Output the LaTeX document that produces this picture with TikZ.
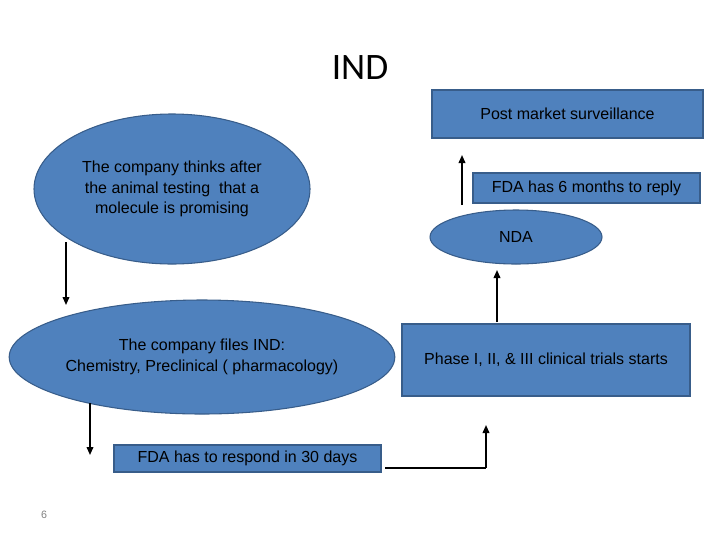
\documentclass[tikz,border=0pt]{standalone}
\usepackage{fontspec}
\setmainfont{Liberation Sans}
\newfontfamily\titlefont{Carlito}
\usetikzlibrary{shapes.geometric,arrows.meta}
\definecolor{bfill}{HTML}{4F81BD}
\definecolor{bdraw}{HTML}{385D8A}
\begin{document}
\begin{tikzpicture}[x=0.75pt,y=-0.75pt,
  boxn/.style={draw=bdraw,fill=bfill,line width=0.8pt,inner sep=0pt,font=\fontsize{12}{14.4}\selectfont},
  elln/.style={ellipse,draw=bdraw,fill=bfill,line width=0.8pt,inner sep=0pt,align=center,font=\fontsize{12}{15.5}\selectfont},
  arr/.style={-{Triangle[length=6pt,width=5pt]},line width=1.2pt}]
\useasboundingbox (0,0) rectangle (720,540);
\node (title) at (360,68) {\titlefont\fontsize{28}{32}\selectfont IND};
\node[boxn,minimum width=271pt*0.75,minimum height=48pt*0.75] (pms) at (567.5,114) {Post market surveillance};
\node[elln,minimum width=276*0.75pt,minimum height=150*0.75pt] (e1) at (172,189) {The company thinks after\\the animal testing\ \ that a\\molecule is promising};
\node[boxn,minimum width=227*0.75pt,minimum height=30*0.75pt] (fda6) at (586.5,188) {FDA has 6 months to reply};
\node[elln,minimum width=172*0.75pt,minimum height=54*0.75pt] (nda) at (516,237) {NDA};
\node[elln,minimum width=320*0.75pt,minimum height=114*0.75pt] (e2) at (202,357) {The company files IND:\\Chemistry, Preclinical ( pharmacology)};
\node[boxn,minimum width=288*0.75pt,minimum height=72*0.75pt] (ph) at (546,360) {Phase I, II, \& III clinical trials starts};
\node[boxn,minimum width=267*0.75pt,minimum height=27*0.75pt] (f30) at (247.5,458.5) {FDA has to respond in 30 days};
\node[text=gray,font=\fontsize{8}{9}\selectfont] (pg) at (44,515) {6};
\coordinate (a1s) at (462,205); \coordinate (a1e) at (462,155);
\draw[arr] (a1s) -- (a1e);
\coordinate (a2s) at (66,242); \coordinate (a2e) at (66,305);
\draw[arr] (a2s) -- (a2e);
\coordinate (a3s) at (497,322); \coordinate (a3e) at (497,270);
\draw[arr] (a3s) -- (a3e);
\coordinate (a4s) at (90,403); \coordinate (a4e) at (90,455);
\draw[arr] (a4s) -- (a4e);
\coordinate (c1) at (385,468); \coordinate (c2) at (486,468); \coordinate (c3) at (486,425);
\draw[line width=0.8pt] (c1) -- (c2);
\draw[arr] (c2) -- (c3);
\end{tikzpicture}
\end{document}
